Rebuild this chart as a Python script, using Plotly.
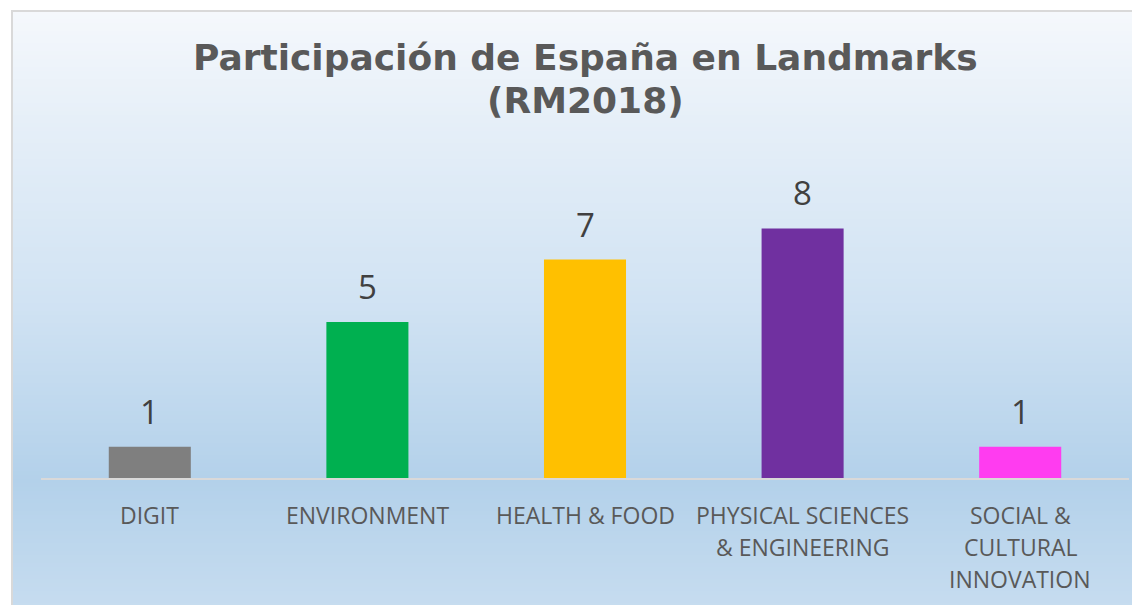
import plotly.graph_objects as go

# datos
categorias = ["DIGIT", "ENVIRONMENT", "HEALTH & FOOD",
              "PHYSICAL SCIENCES<br>& ENGINEERING",
              "SOCIAL &<br>CULTURAL<br>INNOVATION"]
valores = [1, 5, 7, 8, 1]
colores = ["#7f7f7f", "#00b050", "#ffc000", "#7030a0", "#ff3cf0"]
titulo = ["Participación de España en Landmarks", "(RM2018)"]

# el navegador deja 8px de margen en el <body>
OFF = 8
W, H = 1140 - OFF, 605 - OFF
M_L, M_R, M_T, M_B = 33, 11, 142, 127
PLOT_H = H - M_T - M_B
PLOT_W = W - M_L - M_R

TXT_GRIS = "#595959"
TXT_OSC = "#404040"


def _py(p):
    # pixel vertical de la pantalla -> coordenada paper
    return (H - M_B - (p - OFF)) / PLOT_H


def _px(p):
    return (p - OFF - M_L) / PLOT_W


def _hex(c):
    c = c.lstrip("#")
    return [int(c[i:i + 2], 16) for i in (0, 2, 4)]


def _mix(a, b, t):
    return "#%02x%02x%02x" % tuple(round(x + (y - x) * t) for x, y in zip(a, b))


# degradado del fondo (estilo Excel)
_stops = [(11, "#f5f8fc"), (120, "#e6eff8"), (300, "#d1e3f3"),
          (480, "#b3d1ea"), (620, "#c8ddf0")]


def _color_en(p):
    for (p0, c0), (p1, c1) in zip(_stops, _stops[1:]):
        if p0 <= p <= p1:
            return _mix(_hex(c0), _hex(c1), (p - p0) / (p1 - p0))
    return _stops[-1][1]


shapes = []
paso = 4
for p in range(11, 605 + paso, paso):
    shapes.append(dict(
        type="rect", xref="paper", yref="paper", layer="below",
        x0=_px(12), x1=_px(1160), y0=_py(p + paso + 0.5), y1=_py(p),
        fillcolor=_color_en(p + paso / 2), line=dict(width=0),
    ))
# marco del gráfico
shapes.append(dict(
    type="rect", xref="paper", yref="paper", layer="above",
    x0=_px(12), x1=_px(1160), y0=_py(630), y1=_py(11),
    line=dict(color="#d9d9d9", width=2), fillcolor="rgba(0,0,0,0)",
))

fig = go.Figure(go.Bar(
    x=list(range(len(categorias))),
    y=valores,
    marker=dict(color=colores, line=dict(width=0)),
    hoverinfo="skip",
))

annotations = []
# etiquetas de valor
for i, v in enumerate(valores):
    annotations.append(dict(
        x=i, xref="x", y=v, yref="y", text=str(v), showarrow=False,
        xanchor="center", yanchor="bottom", yshift=11,
        font=dict(family="Open Sans", size=33, color=TXT_OSC),
    ))

# etiquetas de categoría, línea a línea
for i, cat in enumerate(categorias):
    for j, linea in enumerate(cat.split("<br>")):
        annotations.append(dict(
            x=i, xref="x", y=_py(515 + 32 * j), yref="paper",
            text=linea, showarrow=False, xanchor="center", yanchor="middle",
            font=dict(family="Open Sans", size=23, color=TXT_GRIS),
        ))

# título en dos líneas
for j, linea in enumerate(titulo):
    annotations.append(dict(
        x=0.5, xref="paper", y=_py(57 + 43 * j), yref="paper",
        text=f"<b>{linea}</b>", showarrow=False,
        xanchor="center", yanchor="middle",
        font=dict(family="DejaVu Sans", size=36, color=TXT_GRIS),
    ))

fig.update_layout(
    width=W, height=H,
    margin=dict(l=M_L, r=M_R, t=M_T, b=M_B),
    paper_bgcolor="white",
    plot_bgcolor="rgba(0,0,0,0)",
    showlegend=False,
    bargap=0.623,
    xaxis=dict(
        range=[-0.5, len(categorias) - 0.5],
        showticklabels=False, showgrid=False, zeroline=False,
        showline=True, linecolor="#d9d9d9", linewidth=2,
    ),
    yaxis=dict(
        range=[0, PLOT_H / 31.2],
        visible=False,
    ),
    shapes=shapes,
    annotations=annotations,
)

fig.write_html("out.html")
